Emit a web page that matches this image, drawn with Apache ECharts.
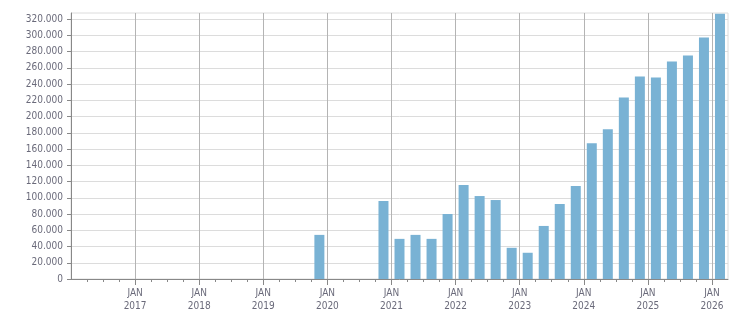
<!DOCTYPE html>
<html><head><meta charset="utf-8">
<script src="https://cdn.jsdelivr.net/npm/echarts@6/dist/echarts.min.js"></script>
<style>html,body{margin:0;padding:0;background:#fff}#c{width:751px;height:313px}</style>
</head><body><div id="c"></div>
<script>
// Quarters, index 0 = Q1 2016 ... index 40 = Q1 2026
const quarters = [
 '2016-Q1','2016-Q2','2016-Q3','2016-Q4',
 '2017-Q1','2017-Q2','2017-Q3','2017-Q4',
 '2018-Q1','2018-Q2','2018-Q3','2018-Q4',
 '2019-Q1','2019-Q2','2019-Q3','2019-Q4',
 '2020-Q1','2020-Q2','2020-Q3','2020-Q4',
 '2021-Q1','2021-Q2','2021-Q3','2021-Q4',
 '2022-Q1','2022-Q2','2022-Q3','2022-Q4',
 '2023-Q1','2023-Q2','2023-Q3','2023-Q4',
 '2024-Q1','2024-Q2','2024-Q3','2024-Q4',
 '2025-Q1','2025-Q2','2025-Q3','2025-Q4',
 '2026-Q1'
];
const values = [
 null,null,null,null,
 null,null,null,null,
 null,null,null,null,
 null,null,null,54300,
 null,null,null,96000,
 49400,54300,49400,80000,
 115600,102100,97200,38400,
 32300,65300,92300,114400,
 167100,184300,223500,249300,
 248000,267700,275000,297100,
 326600
];
const yearTicks = [4,8,12,16,20,24,28,32,36,40];
const yearLabels = ['2017','2018','2019','2020','2021','2022','2023','2024','2025','2026'];
const yTicks = [0,20000,40000,60000,80000,100000,120000,140000,160000,180000,200000,220000,240000,260000,280000,300000,320000];
const yMax = 327400;

const quarterTicks = [];
for (let i = 1; i <= 40; i++) quarterTicks.push(i);

const FONT = "'DejaVu Sans Condensed','Liberation Sans',sans-serif";
const LABEL_COLOR = '#6a6a7a';
function fmt(v){ return String(v).replace(/\B(?=(\d{3})+(?!\d))/g,'.'); }

const barData = [];
values.forEach((v,i)=>{ if(v!=null) barData.push([i+0.5, v, quarters[i]]); });

const chart = echarts.init(document.getElementById('c'), null, {renderer:'canvas'});
chart.setOption({
  animation:false,
  grid:{left:71, right:23, top:13, bottom:32, show:true, borderColor:'#dcdcdc', borderWidth:1, containLabel:false},
  xAxis:[{
    type:'value', min:0, max:41, interval:1,
    axisLine:{show:true, lineStyle:{color:'#888', width:1}},
    axisTick:{show:true, length:3, customValues:quarterTicks, lineStyle:{color:'#888'}},
    axisLabel:{show:false},
    splitLine:{show:false}
  },{
    type:'value', min:0, max:41, interval:4, position:'bottom', offset:0,
    axisLine:{show:false},
    axisTick:{show:true, length:6, customValues:yearTicks, lineStyle:{color:'#888'}},
    axisLabel:{show:true, customValues:yearTicks, margin:8, fontFamily:FONT, fontSize:10, lineHeight:13, color:LABEL_COLOR,
      formatter:function(v){ const i=yearTicks.indexOf(Math.round(v)); return i>=0 ? 'JAN\n'+yearLabels[i] : ''; }},
    splitLine:{show:true, lineStyle:{color:'#b4b4b4', width:1}}
  }],
  yAxis:{
    type:'value', min:0, max:yMax, interval:20000,
    axisLine:{show:true, lineStyle:{color:'#888'}},
    axisTick:{show:true, length:4, customValues:yTicks, lineStyle:{color:'#888'}},
    axisLabel:{customValues:yTicks, margin:8, fontFamily:FONT, fontSize:10, color:LABEL_COLOR, formatter:function(v){return fmt(v);}},
    splitLine:{show:true, lineStyle:{color:'#dcdcdc', width:1}}
  },
  series:[{
    type:'bar', xAxisIndex:0, barWidth:10, data:barData,
    itemStyle:{color:'#79b2d4'}
  }]
});
</script></body></html>
